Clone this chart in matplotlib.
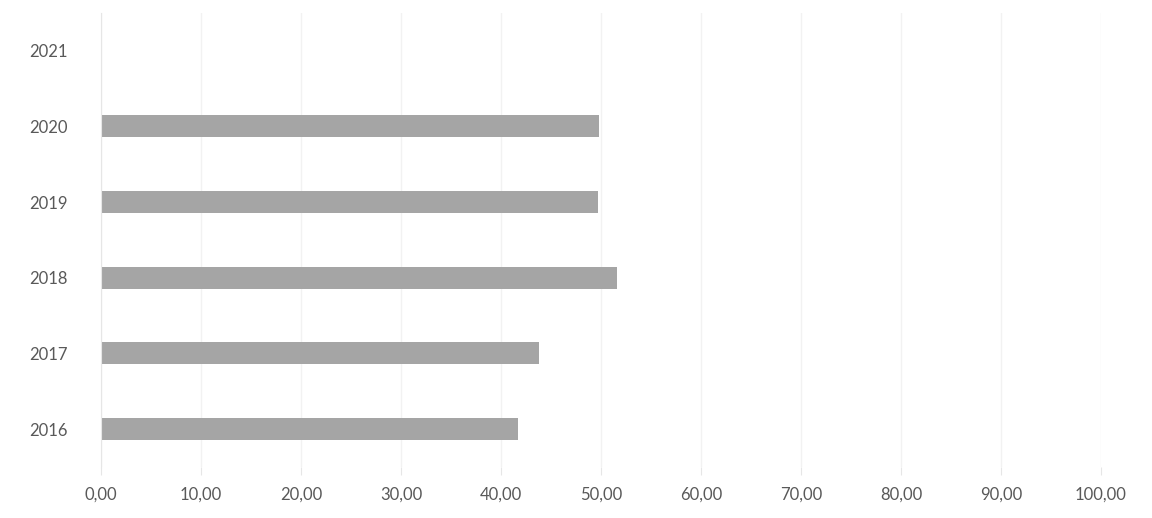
import matplotlib.pyplot as plt
from matplotlib.ticker import FuncFormatter

years = ['2016', '2017', '2018', '2019', '2020', '2021']
values = [41.7, 43.8, 51.6, 49.7, 49.8, 0.0]
x_ticks = [0, 10, 20, 30, 40, 50, 60, 70, 80, 90, 100]

plt.rcParams['font.family'] = ['Lato', 'DejaVu Sans']

fig = plt.figure(figsize=(11.52, 5.18), dpi=100)
ax = fig.add_axes([0.0877, 0.0985, 0.868, 0.8765])

ax.barh(range(len(years)), values, height=0.29, color='#a5a5a5', zorder=2)

ax.set_xlim(0, 100)
ax.set_ylim(-0.5, len(years) - 0.5)
ax.set_xticks(x_ticks)
ax.xaxis.set_major_formatter(FuncFormatter(lambda v, p: f'{v:.2f}'.replace('.', ',')))
ax.set_yticks(range(len(years)))
ax.set_yticklabels(years)

ax.grid(axis='x', color='#f2f2f2', linewidth=1, zorder=0)
for s in ['top', 'right', 'bottom']:
    ax.spines[s].set_visible(False)
ax.spines['left'].set_color('#e6e6e6')

ax.tick_params(axis='x', length=6, color='#e6e6e6', pad=8, labelsize=12, labelcolor='#595959')
ax.tick_params(axis='y', length=0, pad=24, labelsize=12, labelcolor='#595959')

fig.savefig('out.png', dpi=100)
